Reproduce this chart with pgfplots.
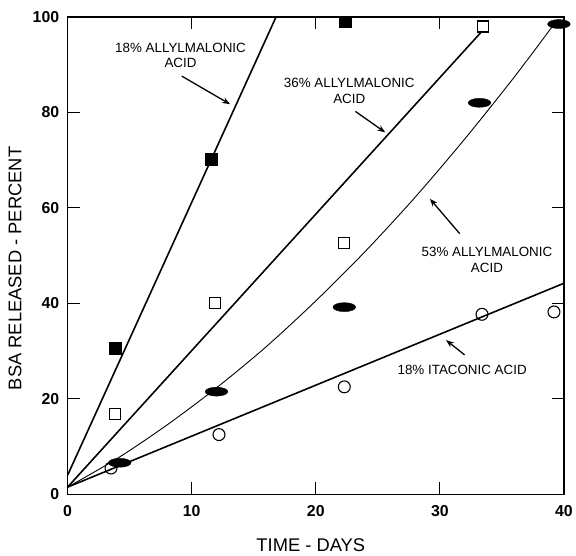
\documentclass[border=0pt]{standalone}
\usepackage{fontspec}
\setmainfont{Liberation Sans}
\usepackage{pgfplots}
\pgfplotsset{compat=1.18}
\usetikzlibrary{arrows.meta}
\begin{document}
\begin{tikzpicture}
\begin{axis}[scale only axis,width=499bp,height=480bp,
  xmin=0,xmax=40,ymin=0,ymax=100,
  xtick={0,10,20,30,40},ytick={0,20,40,60,80,100},
  tick align=inside,major tick length=12bp,
  axis line style={line width=1.3pt},tick style={line width=1.3pt,black},
  /pgf/number format/assume math mode=true,
  ticklabel style={font=\fontsize{16}{16}\selectfont\bfseries},
  yticklabel style={xshift=-5bp},
  xticklabel style={yshift=-8bp},
  xlabel={TIME - DAYS},ylabel={BSA RELEASED - PERCENT},
  label style={font=\fontsize{18.5}{18.5}\selectfont},
  xlabel style={at={(axis description cs:0.49,-0.106)},anchor=center},
  ylabel style={at={(axis description cs:-0.106,0.473)},anchor=center},
  clip=false]
% reserve the margins of the reference
\path (rel axis cs:0,0) ++(-68bp,-62bp);
\path (rel axis cs:1,1) ++(9bp,17bp);
% fitted lines
\addplot[black,line width=1.6pt] coordinates {(0,4) (16.8,100)};
\addplot[black,line width=1.6pt] coordinates {(0,1.5) (33.4,97)};
\addplot[black,line width=0.9pt,smooth] coordinates {(0,1.5) (4,7.5) (8,14.5) (12,22.3) (16,30.9) (20,40.5) (24,50.9) (28,62.2) (32,74.4) (36,87.4) (39.5,99.5)};
\addplot[black,line width=1.6pt] coordinates {(0,1.5) (40,44.2)};
% 18% allylmalonic
\addplot[only marks,mark=square*,mark size=6bp,black] coordinates {(3.8,30.6) (11.6,70.2) (22.4,99)};
% 36% allylmalonic
\addplot[only marks,mark=square,mark size=5.5bp,black,mark options={fill=white,line width=1.2pt}] coordinates {(3.8,16.8) (11.9,40) (22.3,52.7) (33.5,98)};
% 53% allylmalonic
\addplot[only marks,mark=*,mark size=6bp,black,mark options={xscale=1.9,yscale=0.75}] coordinates {(4.2,6.6) (12.0,21.5) (22.3,39.2) (33.2,82) (39.6,98.5)};
% 18% itaconic
\addplot[only marks,mark=o,mark size=6bp,black,mark options={fill=white,line width=1.1pt}] coordinates {(3.5,5.5) (12.2,12.5) (22.3,22.5) (33.4,37.7) (39.2,38.2)};
% annotations
\node[font=\fontsize{13.5}{15.5}\selectfont,align=center] at (axis cs:9.1,91.9) {18\% ALLYLMALONIC\\ACID};
\draw[-{Stealth[length=8bp,width=6bp]},line width=1.3pt] (axis cs:9.2,87.6) -- (axis cs:13.1,81.7);
\node[font=\fontsize{13.5}{15.5}\selectfont,align=center] at (axis cs:22.7,84.5) {36\% ALLYLMALONIC\\ACID};
\draw[-{Stealth[length=8bp,width=6bp]},line width=1.3pt] (axis cs:23.2,80.2) -- (axis cs:25.6,75.8);
\node[font=\fontsize{13.5}{15.5}\selectfont,align=center] at (axis cs:33.8,49.1) {53\% ALLYLMALONIC\\ACID};
\draw[-{Stealth[length=8bp,width=6bp]},line width=1.3pt] (axis cs:31.6,54.6) -- (axis cs:29.2,61.9);
\node[font=\fontsize{13.5}{15.5}\selectfont] at (axis cs:31.8,26.0) {18\% ITACONIC ACID};
\draw[-{Stealth[length=8bp,width=6bp]},line width=1.3pt] (axis cs:32.0,29.2) -- (axis cs:30.5,32.3);
\end{axis}
\end{tikzpicture}
\end{document}
